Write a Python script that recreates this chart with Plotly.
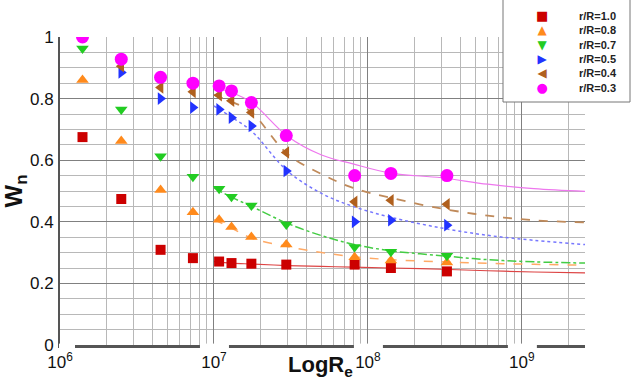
import plotly.graph_objects as go
import math

# ---------------- data ----------------
re_pts = [1.4e6, 2.5e6, 4.5e6, 7.3e6, 1.08e7, 1.3e7, 1.75e7, 2.95e7, 8.2e7, 1.41e8, 3.26e8]

w_r10 = [0.675, 0.474, 0.309, 0.282, 0.271, 0.266, 0.264, 0.261, 0.261, 0.250, 0.239]
w_r08 = [0.860, 0.662, 0.503, 0.431, 0.407, 0.383, 0.351, 0.326, 0.285, 0.274, 0.268]
w_r07 = [0.963, 0.765, 0.613, 0.546, 0.507, 0.481, 0.453, 0.391, 0.318, 0.303, 0.290]
w_r05 = [None, 0.885, 0.800, 0.771, 0.765, 0.738, 0.711, 0.565, 0.400, 0.405, 0.389]
w_r04 = [None, 0.905, 0.836, 0.822, 0.811, 0.793, 0.755, 0.625, 0.465, 0.470, 0.457]
w_r03 = [1.000, 0.928, 0.869, 0.850, 0.841, 0.825, 0.787, 0.680, 0.550, 0.557, 0.550]

re_fit = [1.0e7, 1.3e7, 1.75e7, 3.0e7, 5.0e7, 8.0e7, 1.4e8, 3.0e8, 6.0e8, 1.2e9, 2.6e9]
fit_r10 = [0.271, 0.266, 0.263, 0.258, 0.255, 0.253, 0.250, 0.246, 0.241, 0.237, 0.234]
fit_r08 = [0.407, 0.380, 0.347, 0.320, 0.300, 0.287, 0.277, 0.270, 0.265, 0.262, 0.259]
fit_r07 = [0.510, 0.480, 0.450, 0.395, 0.355, 0.327, 0.306, 0.290, 0.277, 0.270, 0.266]
fit_r05 = [0.776, 0.740, 0.695, 0.565, 0.492, 0.450, 0.415, 0.380, 0.356, 0.340, 0.326]
fit_r04 = [0.812, 0.790, 0.756, 0.620, 0.555, 0.510, 0.478, 0.443, 0.420, 0.405, 0.398]
fit_r03 = [0.836, 0.820, 0.788, 0.678, 0.617, 0.588, 0.558, 0.543, 0.522, 0.508, 0.499]

labels = ["r/R=1.0", "r/R=0.8", "r/R=0.7", "r/R=0.5", "r/R=0.4", "r/R=0.3"]
x_tickvals = [1e6, 1e7, 1e8, 1e9]
x_ticktext = ["10<sup>6</sup>", "10<sup>7</sup>", "10<sup>8</sup>", "10<sup>9</sup>"]
y_tickvals = [0, 0.2, 0.4, 0.6, 0.8, 1.0]
y_ticktext = ["0", "0.2", "0.4", "0.6", "0.8", "1"]
x_title = "LogR<sub>e</sub>"
y_title = "W<sub>n</sub>"

# ---------------- styles ----------------
series = [
    (w_r10, fit_r10, "square", "#cc0000", 10, "#dd4444", "solid", 1.2, "\u25A0", 13),
    (w_r08, fit_r08, "triangle-up", "#ff8a1c", 11, "#ffaa66", "dash", 1.5, "\u25B2", 12),
    (w_r07, fit_r07, "triangle-down", "#22cc22", 11, "#44cc44", "dashdot", 1.5, "\u25BC", 12),
    (w_r05, fit_r05, "triangle-right", "#2233ff", 11, "#7777ff", "dot", 1.5, "\u25B6", 12),
    (w_r04, fit_r04, "triangle-left", "#b0601e", 11, "#c08a5a", "dash", 1.8, "\u25C0", 12),
    (w_r03, fit_r03, "circle", "#ff00ff", 13, "#ee77ee", "solid", 1.2, "\u25CF", 13),
]

FONT = "Liberation Sans, Arial, sans-serif"
W, H = 635, 379
ML, MR, MT, MB = 60, 50, 37, 34
PW, PH = W - ML - MR, H - MT - MB
XR = [6, math.log10(2.57e9)]

def px2paper_x(px):
    return (px - ML) / PW

def px2paper_y(py):
    return (H - MB - py) / PH

fig = go.Figure()

for (pts, fit, sym, col, msz, lcol, dash, lw, glyph, gsz), name in zip(series, labels):
    fig.add_trace(go.Scatter(
        x=re_fit, y=fit, mode="lines", line=dict(color=lcol, width=lw, dash=dash, shape="spline"),
        showlegend=False, hoverinfo="skip"))
for (pts, fit, sym, col, msz, lcol, dash, lw, glyph, gsz), name in zip(series, labels):
    fig.add_trace(go.Scatter(
        x=re_pts, y=pts, mode="markers", name=name,
        marker=dict(symbol=sym, color=col, size=msz, line=dict(width=0)),
        showlegend=False))

shapes = []
# breaks in the bottom axis line around the tick labels
for tv in x_tickvals:
    cx = ML + (math.log10(tv) - XR[0]) / (XR[1] - XR[0]) * PW
    left = max(cx - 14, ML - 1)
    shapes.append(dict(type="rect", xref="paper", yref="paper",
                       x0=px2paper_x(left), x1=px2paper_x(cx + 15),
                       y0=px2paper_y(348), y1=px2paper_y(343.6),
                       fillcolor="white", line=dict(width=0), layer="above"))
# legend box
shapes.append(dict(type="rect", xref="paper", yref="paper",
                   x0=px2paper_x(503), x1=px2paper_x(630),
                   y0=px2paper_y(102), y1=px2paper_y(-5),
                   fillcolor="white", line=dict(color="#777777", width=1), layer="above"))

# legend: one column of symbols and one column of labels
glyph_lines = []
label_lines = []
for (pts, fit, sym, col, msz, lcol, dash, lw, glyph, gsz), name in zip(series, labels):
    glyph_lines.append('<span style="color:%s;font-size:%dpx">%s</span>' % (col, gsz, glyph))
    label_lines.append("<b>%s</b>" % name)

LEG_CY = (15.4 + 88) / 2
annotations = [
    dict(xref="paper", yref="paper", x=px2paper_x(542), y=px2paper_y(LEG_CY),
         text="<br>".join(glyph_lines), showarrow=False, xanchor="center", yanchor="middle",
         align="center", font=dict(family="DejaVu Sans", size=11, color="#000000")),
    dict(xref="paper", yref="paper", x=px2paper_x(577), y=px2paper_y(LEG_CY),
         text="<br>".join(label_lines), showarrow=False, xanchor="left", yanchor="middle",
         align="left", font=dict(family=FONT, size=11, color="#222222")),
    # x-axis title
    dict(xref="paper", yref="paper", x=px2paper_x(320), y=px2paper_y(366),
         text=x_title, showarrow=False, xanchor="center", yanchor="middle",
         font=dict(family=FONT, size=22, weight="bold", color="#111111")),
]

fig.update_layout(
    width=W, height=H,
    margin=dict(l=ML, r=MR, t=MT, b=MB, autoexpand=False),
    paper_bgcolor="white", plot_bgcolor="white",
    font=dict(family=FONT, color="#111111", size=17),
    shapes=shapes, annotations=annotations,
    showlegend=False,
)

fig.update_xaxes(
    type="log", range=XR,
    tickvals=x_tickvals, ticktext=x_ticktext,
    tickfont=dict(size=17, family=FONT, color="#111111"),
    ticks="", ticklabelstandoff=0,
    showgrid=True, gridcolor="#808080", gridwidth=1.3,
    minor=dict(dtick="D1", showgrid=True, gridcolor="#b8b8b8", gridwidth=1, ticks=""),
    showline=True, linecolor="#555555", linewidth=2.5, mirror=False,
    zeroline=False,
    automargin=False,
)
fig.update_yaxes(
    range=[0, 1],
    tickvals=y_tickvals, ticktext=y_ticktext,
    tickfont=dict(size=17, family=FONT, color="#111111"),
    ticks="", ticklabelstandoff=1,
    showgrid=True, gridcolor="#808080", gridwidth=1.3,
    minor=dict(dtick=0.05, showgrid=True, gridcolor="#b8b8b8", gridwidth=1, ticks=""),
    showline=True, linecolor="#555555", linewidth=2, mirror=False,
    zeroline=False,
    title=dict(text=y_title, font=dict(size=24, family=FONT, weight="bold", color="#111111"), standoff=4),
    automargin=False,
)

fig.write_html("out.html")
